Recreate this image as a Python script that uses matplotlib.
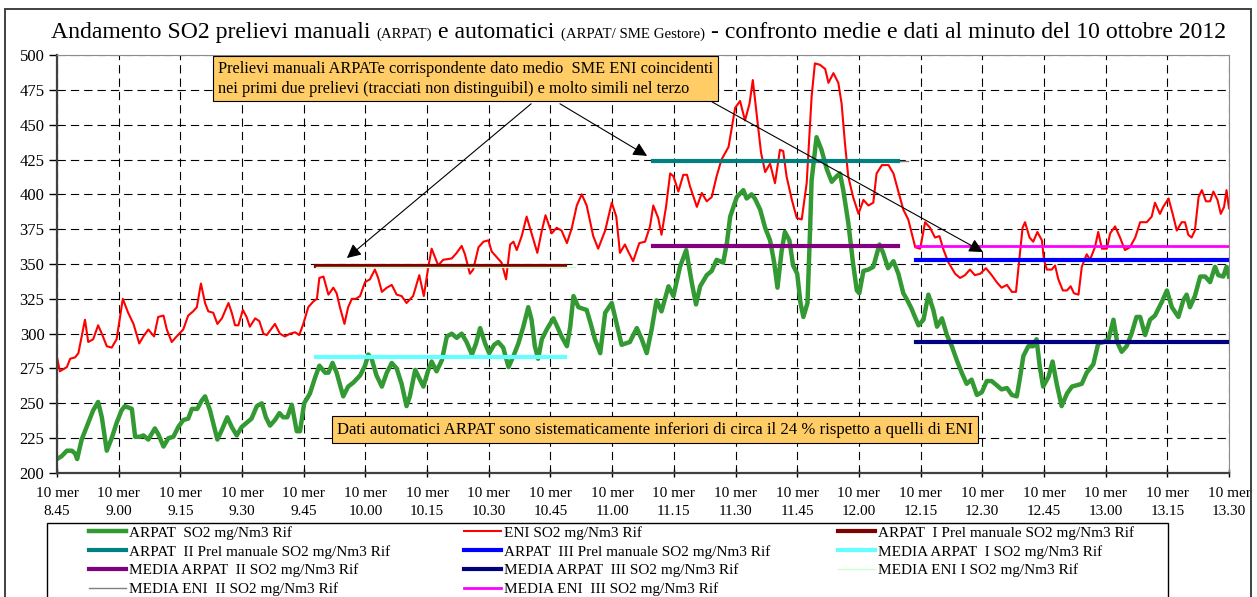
import numpy as np
import matplotlib.pyplot as plt
from matplotlib.patches import Rectangle

plt.rcParams['font.family'] = 'Liberation Serif'
plt.rcParams['lines.scale_dashes'] = False

# --- dati (tempo in minuti dopo le 8.45 del 10 ottobre 2012, SO2 mg/Nm3) ---
tick_labels = ['8.45', '9.00', '9.15', '9.30', '9.45', '10.00', '10.15', '10.30',
               '10.45', '11.00', '11.15', '11.30', '11.45', '12.00', '12.15',
               '12.30', '12.45', '13.00', '13.15', '13.30']

eni_t = [0, 0.7, 2.4, 3.2, 4.4, 5.2, 6.8, 7.6, 8.8, 10.0,
         10.9, 12.1, 13.3, 14.5, 16.0, 17.3, 18.6, 20.0, 21.0, 22.2,
         23.6, 24.6, 25.9, 26.7, 27.9, 29.1, 30.7, 31.9, 33.1, 34.0,
         35.0, 36.0, 36.8, 38.0, 39.0, 40.1, 41.7, 42.5, 43.3, 44.1,
         45.2, 46.1, 46.9, 48.2, 49.2, 50.2, 51.0, 52.0, 53.0, 54.2,
         55.4, 56.7, 57.9, 58.9, 59.9, 61.1, 62.3, 63.2, 63.8, 64.8,
         66.0, 67.2, 68.0, 68.8, 69.9, 70.8, 71.7, 72.7, 73.7, 74.9,
         76.1, 77.3, 78.1, 79.0, 80.2, 81.4, 82.6, 83.8, 85.0, 86.6,
         88.1, 89.2, 90.3, 91.1, 92.7, 93.9, 96.0, 97.2, 98.4, 99.2,
         100.4, 101.2, 102.5, 103.7, 104.9, 105.7, 106.9, 108.1, 109.2, 110.2,
         111.0, 111.8, 113.0, 114.2, 115.4, 116.8, 117.9, 118.8, 120.3, 121.5,
         122.7, 124.0, 125.2, 126.4, 127.6, 128.8, 130.4, 131.6, 133.3, 134.9,
         136.0, 136.9, 138.1, 138.9, 140.1, 141.6, 143.0, 144.2, 145.0, 146.2,
         147.0, 148.1, 149.1, 149.9, 151.1, 152.3, 153.2, 153.9, 155.6, 156.8,
         158.0, 159.2, 160.4, 161.6, 163.3, 164.9, 166.1, 167.3, 168.4, 169.2,
         170.2, 171.2, 172.2, 173.4, 174.6, 175.8, 176.6, 177.4, 178.7, 179.9,
         181.1, 182.3, 183.5, 184.3, 185.5, 186.8, 187.6, 188.8, 190.0, 190.8,
         191.6, 192.4, 193.6, 194.9, 196.1, 197.3, 198.5, 199.3, 200.6, 202.2,
         203.4, 204.6, 205.8, 207.0, 208.7, 209.9, 211.1, 212.3, 213.5, 214.6,
         215.6, 216.8, 218.4, 219.6, 220.8, 222.0, 223.2, 224.5, 225.9, 227.3,
         228.5, 229.7, 231.0, 232.2, 233.2, 234.0, 234.8, 235.4, 236.5, 237.4,
         238.4, 239.5, 240.0, 240.7, 241.9, 242.7, 243.5, 244.6, 245.6, 246.5,
         247.3, 248.4, 249.2, 250.4, 251.2, 252.4, 253.2, 254.1, 255.3, 256.1,
         257.3, 258.5, 259.7, 260.9, 262.2, 263.4, 265.0, 266.2, 267.0, 268.2,
         269.0, 270.3, 271.3, 272.3, 273.5, 274.3, 275.1, 275.9, 276.7, 277.6,
         278.4, 279.4, 280.4, 281.2, 282.2, 283.0, 283.8, 284.4, 285.0]
eni_so2 = [283, 273, 276, 282, 283, 286, 310, 294, 296, 306,
           300, 291, 290, 296, 325, 315, 307, 293, 298, 303,
           298, 312, 313, 303, 294, 298, 303, 313, 316, 319,
           336, 322, 316, 315, 307, 311, 322, 315, 306, 306,
           317, 312, 305, 311, 309, 300, 299, 303, 307, 300,
           298, 300, 301, 299, 307, 319, 323, 325, 340, 341,
           328, 333, 329, 319, 307, 319, 325, 325, 327, 337,
           339, 346, 340, 330, 333, 335, 328, 327, 322, 327,
           342, 327, 348, 361, 349, 353, 354, 358, 363, 357,
           343, 346, 362, 366, 367, 359, 355, 351, 339, 364,
           366, 360, 370, 384, 372, 358, 374, 385, 372, 376,
           374, 365, 376, 392, 400, 392, 370, 361, 374, 394,
           384, 358, 364, 359, 352, 365, 366, 377, 392, 383,
           371, 391, 415, 413, 402, 414, 414, 406, 391, 401,
           395, 398, 413, 425, 434, 462, 467, 453, 465, 482,
           456, 430, 416, 422, 408, 432, 431, 413, 396, 383,
           382, 408, 470, 494, 493, 490, 480, 487, 480, 465,
           437, 413, 398, 386, 396, 392, 394, 415, 421, 421,
           415, 402, 389, 382, 362, 361, 380, 376, 369, 370,
           360, 351, 343, 340, 342, 346, 342, 343, 347, 342,
           337, 333, 335, 330, 330, 353, 376, 380, 369, 366,
           373, 367, 353, 346, 346, 349, 339, 331, 331, 334,
           329, 328, 348, 357, 353, 362, 373, 361, 361, 372,
           377, 369, 360, 362, 369, 380, 380, 384, 394, 386,
           391, 397, 386, 374, 380, 380, 371, 369, 374, 398,
           403, 395, 395, 402, 396, 386, 391, 403, 390]

arpat_t = [0, 1.1, 2.4, 3.6, 4.4, 4.9, 6.0, 7.6, 8.8, 10.0,
           10.9, 12.1, 13.3, 14.5, 15.7, 16.5, 18.2, 19.0, 20.2, 21.0,
           22.2, 23.8, 24.6, 25.9, 27.1, 28.3, 29.5, 30.7, 31.9, 32.8,
           34.1, 35.2, 36.0, 37.2, 39.0, 40.1, 41.4, 42.5, 43.7, 44.9,
           46.1, 47.3, 48.6, 49.8, 50.8, 51.8, 53.0, 54.1, 55.0, 56.0,
           57.1, 58.3, 59.1, 60.1, 61.5, 62.7, 63.8, 65.2, 66.0, 67.0,
           68.0, 69.6, 70.8, 72.1, 73.7, 74.9, 75.7, 76.5, 77.7, 79.0,
           80.2, 81.4, 82.6, 83.8, 85.0, 85.8, 87.1, 89.1, 90.3, 91.1,
           92.3, 93.6, 94.8, 96.0, 97.2, 98.4, 99.6, 100.9, 101.9, 102.9,
           104.1, 105.1, 106.3, 107.3, 108.5, 109.8, 111.0, 112.2, 113.4, 114.6,
           115.4, 116.2, 117.0, 117.9, 119.1, 120.7, 121.5, 122.7, 124.0, 124.8,
           125.6, 126.8, 127.8, 128.8, 129.8, 130.8, 132.1, 133.3, 134.9, 136.1,
           137.3, 139.3, 141.0, 142.2, 143.4, 144.6, 145.8, 147.0, 148.7, 149.9,
           151.5, 153.0, 154.4, 155.4, 156.4, 158.0, 159.2, 160.4, 162.0, 162.9,
           163.7, 165.3, 166.9, 167.7, 168.9, 169.7, 171.0, 172.2, 173.4, 174.4,
           175.2, 176.2, 177.0, 178.1, 179.0, 180.0, 180.8, 181.5, 182.5, 183.1,
           183.5, 184.7, 185.9, 187.2, 188.4, 189.6, 190.4, 191.2, 192.4, 193.6,
           194.5, 195.1, 196.1, 197.3, 198.5, 200.0, 200.9, 202.1, 203.4, 204.6,
           205.8, 206.6, 207.8, 208.2, 209.5, 210.7, 211.9, 213.1, 214.0, 215.2,
           216.4, 217.6, 218.8, 220.0, 221.2, 222.4, 223.7, 224.9, 226.1, 227.3,
           228.5, 229.7, 231.0, 232.2, 233.4, 234.2, 235.0, 236.2, 237.4, 238.2,
           239.0, 239.8, 241.1, 242.1, 243.1, 244.3, 245.6, 246.8, 248.0, 249.2,
           250.4, 252.0, 253.2, 254.5, 255.7, 256.9, 257.8, 258.9, 260.1, 261.3,
           262.5, 263.4, 264.6, 265.8, 267.0, 268.7, 269.9, 271.1, 272.7, 273.9,
           274.7, 275.5, 276.7, 278.0, 279.2, 280.4, 281.6, 282.4, 283.6, 284.4,
           285.0]
arpat_so2 = [210, 212, 216, 216, 214, 210, 224, 236, 245, 251,
             240, 216, 225, 236, 245, 248, 246, 226, 226, 227,
             224, 232, 228, 219, 225, 226, 233, 238, 239, 246,
             246, 252, 255, 245, 224, 231, 240, 233, 227, 233,
             236, 239, 248, 250, 240, 234, 238, 243, 240, 240,
             249, 230, 230, 250, 257, 268, 277, 272, 272, 279,
             272, 255, 262, 265, 270, 277, 285, 282, 270, 262,
             272, 279, 275, 264, 248, 255, 274, 262, 274, 280,
             273, 281, 298, 300, 297, 300, 294, 285, 293, 304,
             293, 286, 292, 294, 290, 276, 284, 293, 305, 319,
             310, 291, 282, 296, 303, 311, 306, 298, 291, 305,
             327, 319, 318, 317, 307, 296, 286, 315, 322, 307,
             292, 294, 304, 296, 286, 303, 324, 316, 334, 327,
             348, 360, 336, 321, 334, 342, 345, 353, 351, 365,
             384, 398, 403, 397, 400, 397, 389, 376, 367, 351,
             333, 359, 373, 367, 349, 343, 322, 312, 322, 372,
             410, 441, 432, 418, 409, 413, 415, 403, 380, 350,
             331, 329, 345, 346, 348, 364, 358, 347, 352, 343,
             329, 325, 318, 315, 306, 310, 328, 317, 305, 311,
             299, 291, 281, 272, 264, 267, 256, 258, 266, 266,
             263, 260, 261, 256, 255, 269, 284, 291, 291, 296,
             276, 262, 269, 280, 264, 248, 257, 262, 263, 264,
             272, 278, 293, 294, 296, 310, 294, 287, 291, 300,
             312, 312, 299, 310, 313, 323, 331, 319, 312, 324,
             328, 319, 327, 341, 341, 337, 348, 342, 341, 348,
             341]

# tre prelievi manuali: inizio / fine (minuti dopo le 8.45)
prel_start = [63, 145, 209]
prel_end = [123.5, 204.5, 285]
prel_arpat = [348.3, 424, 353]        # ARPAT I/II/III Prel manuale
media_arpat = [283, 363, 294]         # MEDIA ARPAT I/II/III
media_eni = [347.6, 424, 362.7]       # MEDIA ENI I/II/III
media_eni_end = [126, 207, 285]

W, H = 1257, 597
fig = plt.figure(figsize=(W / 100, H / 100), dpi=100)
ax = fig.add_axes([57 / W, 1 - 473 / H, (1229 - 57) / W, (473 - 55) / H])

l_arpat, = ax.plot(arpat_t, arpat_so2, color='#339933', lw=3.2, label='ARPAT  SO2 mg/Nm3 Rif')
l_eni, = ax.plot(eni_t, eni_so2, color='#ff0000', lw=1.5, label='ENI SO2 mg/Nm3 Rif')

roman = ['I', 'II', 'III']
c_prel = ['#800000', '#008080', '#0000ff']
c_marp = ['#66ffff', '#800080', '#000080']
c_meni = ['#ccffcc', '#808080', '#ff00ff']
lw_meni = [1, 1, 2]
lab_meni = ['MEDIA ENI I SO2 mg/Nm3 Rif', 'MEDIA ENI  II SO2 mg/Nm3 Rif',
            'MEDIA ENI  III SO2 mg/Nm3 Rif']

h_prel, h_marp, h_meni = [], [], []
for i in range(3):
    lm, = ax.plot([prel_start[i], media_eni_end[i]], [media_eni[i]] * 2, color=c_meni[i],
                  lw=lw_meni[i], label=lab_meni[i])
    lp, = ax.plot([prel_start[i], prel_end[i]], [prel_arpat[i]] * 2, color=c_prel[i], lw=3,
                  label='ARPAT  %s Prel manuale SO2 mg/Nm3 Rif' % roman[i])
    la, = ax.plot([prel_start[i], prel_end[i]], [media_arpat[i]] * 2, color=c_marp[i], lw=3,
                  label='MEDIA ARPAT  %s SO2 mg/Nm3 Rif' % roman[i])
    h_prel.append(lp)
    h_marp.append(la)
    h_meni.append(lm)
# MEDIA ENI I sta sopra alla linea ARPAT I (tracciati non distinguibili)
h_meni[0].set_zorder(2.5)

ax.set_xlim(0, 285)
ax.set_ylim(200, 500)
ax.set_xticks(np.arange(0, 286, 15))
ax.set_xticklabels(['10 mer\n' + s for s in tick_labels], linespacing=1.5)
ax.set_yticks(np.arange(200, 501, 25))
ax.tick_params(axis='x', direction='inout', length=6, width=1, pad=7, labelsize=11)
ax.tick_params(axis='y', direction='out', length=6, width=1, pad=3, labelsize=12)
ax.set_axisbelow(True)
ax.grid(True, color='black', linestyle=(0, (6, 3.6)), linewidth=0.8)
for s in ['left', 'bottom']:
    ax.spines[s].set_color('#404040')
    ax.spines[s].set_linewidth(1.6)
for s in ['top', 'right']:
    ax.spines[s].set_color('#8c8c8c')
    ax.spines[s].set_linewidth(0.8)

# riquadri di testo e frecce
box = dict(boxstyle='square,pad=0.3', fc='#ffcc66', ec='black', lw=0.8)
ax.text((218 - 57) / 1172, (473 - 61) / 418,
        'Prelievi manuali ARPATe corrispondente dato medio  SME ENI coincidenti\n'
        'nei primi due prelievi (tracciati non distinguibil) e molto simili nel terzo',
        transform=ax.transAxes, fontsize=11.7, linespacing=1.3, va='top', ha='left',
        bbox=box, zorder=5)
ax.text((337 - 57) / 1172, (473 - 429.5) / 418,
        'Dati automatici ARPAT sono sistematicamente inferiori di circa il 24 % '
        'rispetto a quelli di ENI',
        transform=ax.transAxes, fontsize=12.1, va='center', ha='left', bbox=box, zorder=5)

arrow = dict(arrowstyle='-|>,head_length=0.6,head_width=0.3', color='black', lw=0.8,
             mutation_scale=14, shrinkA=0, shrinkB=0)
ax.annotate('', xy=(70.5, 354.3), xytext=(115.3, 465), arrowprops=arrow, zorder=4)
ax.annotate('', xy=(143.5, 427.6), xytext=(122.3, 465), arrowprops=arrow, zorder=4)
ax.annotate('', xy=(225.2, 358.6), xytext=(159.3, 466.3), arrowprops=arrow, zorder=4)

# titolo con parti piccole
title_parts = [('Andamento SO2 prelievi manuali', 17.1), ('(ARPAT)', 10.7),
               ('e automatici', 17.1), ('(ARPAT/ SME Gestore)', 10.7),
               ('- confronto medie e dati al minuto del 10 ottobre 2012', 17.1)]
renderer = fig.canvas.get_renderer()
pieces = []
for s, size in title_parts:
    t = fig.text(0, 1 - 38 / H, s, fontsize=size, va='baseline', ha='left')
    pieces.append((t, t.get_window_extent(renderer).width))
gap = 6
total = sum(w for _, w in pieces) + gap * (len(pieces) - 1)
x = (49 + 1228) / 2 - total / 2
for t, w in pieces:
    t.set_x(x / W)
    x += w + gap

# legenda in tre colonne
legend_cols = [([l_arpat, h_prel[1], h_marp[1], h_meni[1]], 89),
               ([l_eni, h_prel[2], h_marp[2], h_meni[2]], 464),
               ([h_prel[0], h_marp[0], h_meni[0]], 838)]
for handles, xpos in legend_cols:
    fig.legend(handles=handles, loc='upper left', bbox_to_anchor=(xpos / W, 1 - 526 / H),
               frameon=False, borderpad=0, borderaxespad=0, handlelength=2.4,
               handletextpad=0.25, labelspacing=0.33, fontsize=11)

fig.add_artist(Rectangle((47 / W, 1 - 650 / H), (1168 - 47) / W, (650 - 523) / H,
                         transform=fig.transFigure, fill=False, ec='black', lw=1))
fig.add_artist(Rectangle((5 / W, 1 - 650 / H), (1251 - 5) / W, (650 - 9) / H,
                         transform=fig.transFigure, fill=False, ec='#404040', lw=1.4))

fig.savefig('out.png', dpi=100)
